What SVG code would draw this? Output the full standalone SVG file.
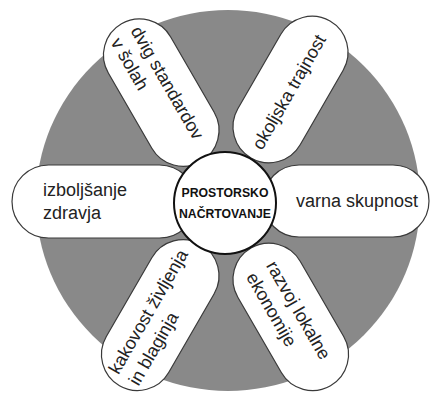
<svg xmlns="http://www.w3.org/2000/svg" width="430" height="394" viewBox="0 0 430 394">
<style>
.pill{fill:#fff;stroke:#3a3a3a;stroke-width:1.2}
.t{font-family:"Liberation Sans",Arial,sans-serif;font-size:18px;fill:#222}
.c{font-family:"Liberation Sans",Arial,sans-serif;font-size:13.5px;font-weight:bold;fill:#111;text-anchor:middle}
</style>
<rect width="430" height="394" fill="#fff"/>
<g id="background"><ellipse cx="228" cy="200.5" rx="192" ry="190.5" fill="#898989"/></g>
<g id="connectors"/>
<g id="n-zdravje" transform="translate(104,201.5)">
<rect class="pill" x="-92" y="-36.5" width="184" height="73" rx="36.5"/>
<text class="t" x="-61" y="-6">izboljšanje</text>
<text class="t" x="-61" y="17">zdravja</text>
</g>
<g id="n-varna" transform="translate(346,201)">
<rect class="pill" x="-83" y="-36" width="166" height="72" rx="36"/>
<text class="t" x="-50" y="5.5">varna skupnost</text>
</g>
<g id="n-dvig" transform="translate(161.25,92.6) rotate(60)">
<rect class="pill" x="-79.5" y="-36" width="159" height="72" rx="36"/>
<text class="t" x="-69" y="-4">dvig standardov</text>
<text class="t" x="-69" y="19">v šolah</text>
</g>
<g id="n-okolje" transform="translate(290.5,89.5) rotate(-60)">
<rect class="pill" x="-79" y="-36" width="158" height="72" rx="36"/>
<text class="t" x="-3" y="6" text-anchor="middle">okoljska trajnost</text>
</g>
<g id="n-kakovost" transform="translate(160.25,315.1) rotate(-60)">
<rect class="pill" x="-81.5" y="-36" width="163" height="72" rx="36"/>
<text class="t" x="-73" y="-6">kakovost življenja</text>
<text class="t" x="-73" y="17">in blaginja</text>
</g>
<g id="n-ekonomija" transform="translate(290.75,316.9) rotate(60)">
<rect class="pill" x="-79.5" y="-36" width="159" height="72" rx="36"/>
<text class="t" x="-57" y="-4">razvoj lokalne</text>
<text class="t" x="-57" y="19">ekonomije</text>
</g>
<g id="n-center">
<circle cx="225" cy="203" r="51" fill="#fff" stroke="#111" stroke-width="2"/>
<text class="c" x="225" y="197" textLength="87" lengthAdjust="spacingAndGlyphs">PROSTORSKO</text>
<text class="c" x="225" y="218" textLength="92" lengthAdjust="spacingAndGlyphs">NAČRTOVANJE</text>
</g>
</svg>
